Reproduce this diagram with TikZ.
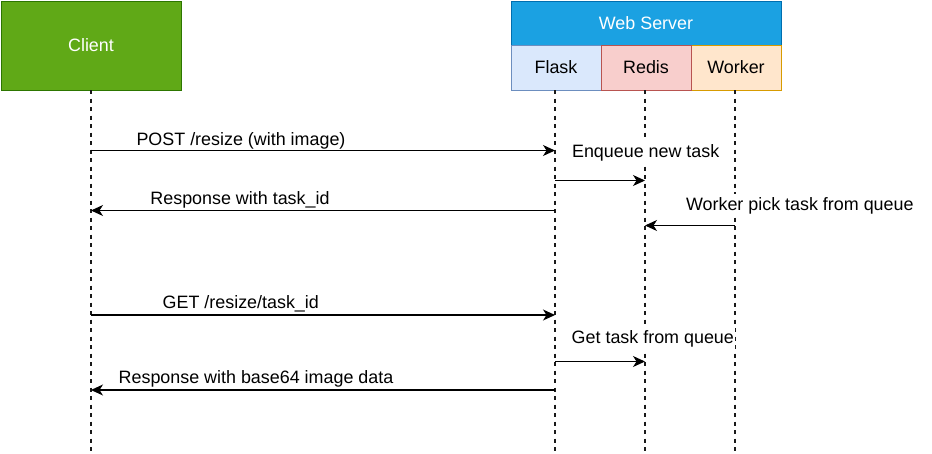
\documentclass[tikz,border=0pt]{standalone}
\usepackage{fontspec}
\setmainfont{Liberation Sans}
\usetikzlibrary{arrows.meta}
\definecolor{clientfill}{HTML}{60A917}
\definecolor{clientdraw}{HTML}{2D7600}
\definecolor{wsfill}{HTML}{1BA1E2}
\definecolor{wsdraw}{HTML}{006EAF}
\definecolor{flaskfill}{HTML}{DAE8FC}
\definecolor{flaskdraw}{HTML}{6C8EBF}
\definecolor{redisfill}{HTML}{F8CECC}
\definecolor{redisdraw}{HTML}{B85450}
\definecolor{workerfill}{HTML}{FFE6CC}
\definecolor{workerdraw}{HTML}{D79B00}
\tikzset{
  box/.style={draw, line width=1pt, inner sep=0pt, font=\fontsize{17.9}{21}\selectfont},
  lifeline/.style={line width=1.1pt, draw=black!90, dash pattern=on 4pt off 4.5pt},
  msg/.style={line width=1.1pt, -{Stealth[length=12pt,width=11pt,inset=3.5pt]}},
  lbl/.style={anchor=base, fill=white, inner xsep=1pt, inner ysep=3pt, font=\fontsize{17.9}{21}\selectfont},
}
\begin{document}
\begin{tikzpicture}[x=1pt,y=-1pt]
\useasboundingbox (0,0) rectangle (932,453);
% participants
\node[box, fill=clientfill, draw=clientdraw, text=white, minimum width=180pt, minimum height=89pt] (client) at (91,45.5) {Client};
\node[box, fill=wsfill, draw=wsdraw, text=white, minimum width=270pt, minimum height=44pt] (web) at (646,23) {Web Server};
\node[box, fill=flaskfill, draw=flaskdraw, minimum width=90pt, minimum height=45pt] (flask) at (556,67.5) {Flask};
\node[box, fill=workerfill, draw=workerdraw, minimum width=90pt, minimum height=45pt] (worker) at (736,67.5) {Worker};
\node[box, fill=redisfill, draw=redisdraw, minimum width=90pt, minimum height=45pt] (redis) at (646,67.5) {Redis};
% lifeline bottom ends
\coordinate (clientEnd) at (91,456);
\coordinate (flaskEnd) at (555,456);
\coordinate (redisEnd) at (645,456);
\coordinate (workerEnd) at (735,456);
\draw[lifeline] (91,90) -- (clientEnd);
\draw[lifeline] (555,90) -- (flaskEnd);
\draw[lifeline] (645,90) -- (redisEnd);
\draw[lifeline] (735,90) -- (workerEnd);
% message anchor points
\coordinate (c1) at (91,150.5);   \coordinate (f1) at (555,150.5);
\coordinate (f2) at (555,180.5);  \coordinate (r2) at (645,180.5);
\coordinate (f3) at (555,210.5);  \coordinate (c3) at (91,210.5);
\coordinate (w4) at (735,225.5);  \coordinate (r4) at (645,225.5);
\coordinate (c5) at (91,315);     \coordinate (f5) at (555,315);
\coordinate (f6) at (555,361.5);  \coordinate (r6) at (645,361.5);
\coordinate (f7) at (555,390);    \coordinate (c7) at (91,390);
% labels
\node[lbl] (l1) at (241,145.7) {POST /resize (with image)};
\node[lbl] (l2) at (645.7,157.3) {Enqueue new task};
\node[lbl] (l3) at (240,204) {Response with task\_id};
\node[lbl] (l4) at (799.8,210) {Worker pick task from queue};
\node[lbl] (l5) at (240.8,308.3) {GET /resize/task\_id};
\node[lbl] (l6) at (652.8,343.3) {Get task from queue};
\node[lbl] (l7) at (256,383.3) {Response with base64 image data};
% messages
\draw[msg] (c1) -- (f1);
\draw[msg] (f2) -- (r2);
\draw[msg] (f3) -- (c3);
\draw[msg] (w4) -- (r4);
\draw[msg] (c5) -- (f5);
\draw[msg] (f6) -- (r6);
\draw[msg] (f7) -- (c7);
\end{tikzpicture}
\end{document}
